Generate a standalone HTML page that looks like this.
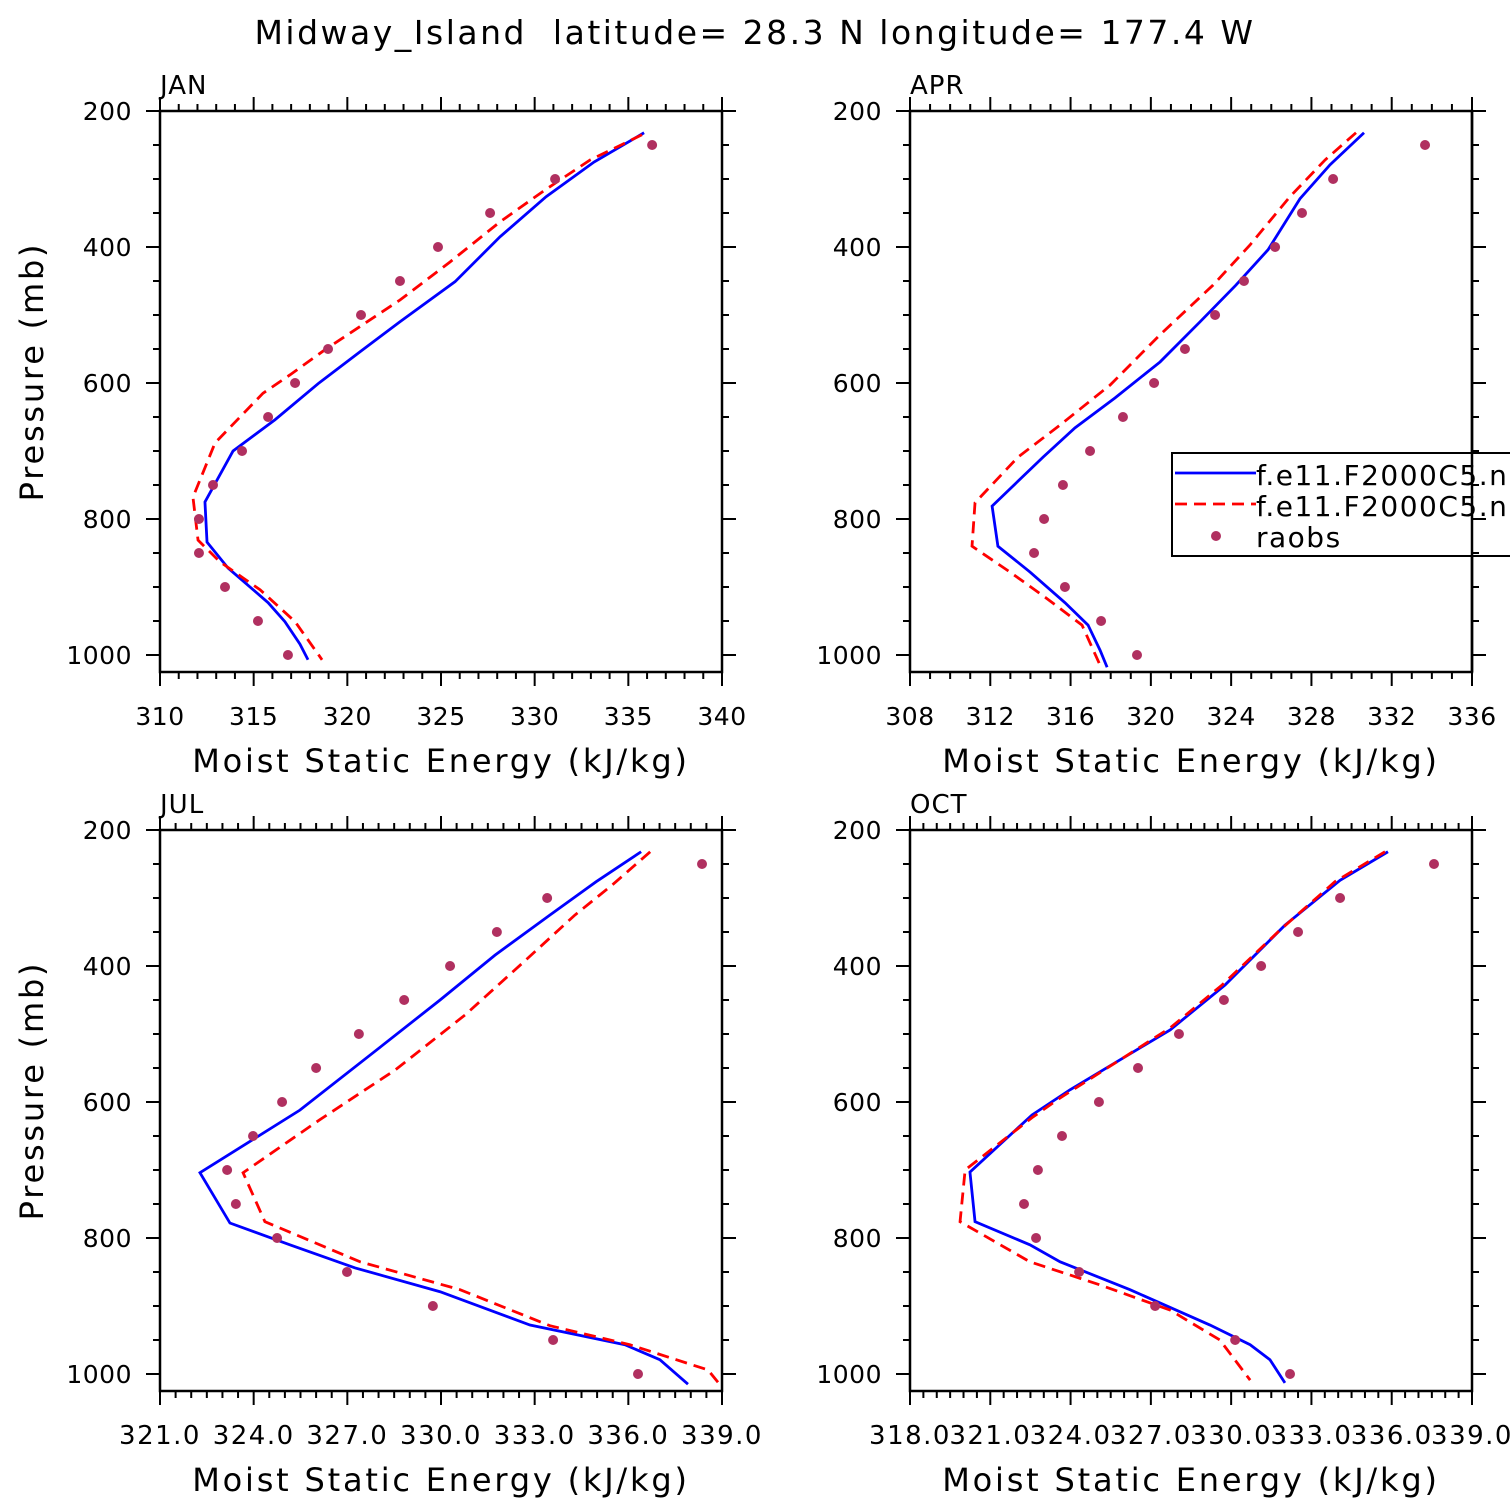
<!DOCTYPE html>
<html><head><meta charset="utf-8"><style>
html,body{margin:0;padding:0;background:#fff;overflow:hidden}
svg{display:block;font-family:"DejaVu Sans","Liberation Sans",sans-serif}
text{white-space:pre}
</style></head><body>
<svg id="c" width="1510" height="1510" viewBox="0 0 1510 1510">
<text x="755" y="44" text-anchor="middle" font-size="33" letter-spacing="2.5">Midway_Island  latitude= 28.3 N longitude= 177.4 W</text>
</svg>
<script>
// JAN
const janObsX=[336.27,331.09,327.62,324.84,322.81,320.73,318.97,317.21,315.77,314.38,312.83,312.08,312.08,313.47,315.23,316.83];
const obsP=[250,300,350,400,450,500,550,600,650,700,750,800,850,900,950,1000];
const janBlueX=[335.84,333.17,330.61,328.15,325.75,322.81,320.68,318.44,316.14,313.90,312.40,312.51,313.63,315.77,316.67,317.47,317.90];
const janBlueP=[232,275,326,385,451,510,554,601,654,700,775,834,872,923,951,984,1007];
const janRedX=[335.73,332.96,330.56,328.15,325.48,322.81,318.81,316.94,315.50,312.94,311.76,312.03,313.20,315.34,317.21,318.65];
const janRedP=[235,272,316,363,422,478,551,588,615,688,768,831,863,904,951,1007];
// APR
const aprObsX=[333.66,329.08,327.53,326.19,324.64,323.20,321.70,320.16,318.61,316.97,315.62,314.68,314.18,315.72,317.52,319.31];
const aprBlueX=[330.62,328.93,327.43,325.84,324.24,322.45,320.46,318.21,316.22,314.63,312.09,312.38,313.98,315.72,316.87,317.47,317.82];
const aprBlueP=[232,279,329,404,456,510,569,622,666,709,781,840,878,923,956,993,1018];
const aprRedX=[330.22,328.68,326.93,324.94,323.10,320.46,317.97,315.47,313.38,311.24,311.09,312.98,314.73,316.57,317.47];
const aprRedP=[232,272,326,397,456,529,603,662,709,776,840,878,915,956,1015];
// JUL
const julObsX=[338.36,333.40,331.79,330.29,328.82,327.37,326.00,324.91,323.98,323.15,323.43,324.75,326.99,329.74,333.59,336.31];
const julBlueX=[336.41,334.97,333.49,331.73,329.97,327.73,325.48,322.28,323.24,325.16,327.25,329.97,332.85,335.89,337.01,337.91];
const julBlueP=[232,276,325,384,450,531,612,704,778,810,844,879,928,957,979,1015];
const julRedX=[336.70,335.48,334.29,332.53,330.77,328.53,326.12,323.66,324.36,327.41,330.61,333.49,336.05,338.55,338.94];
const julRedP=[232,281,325,399,472,553,626,704,776,835,876,929,957,994,1016];
// OCT
const octObsX=[337.58,334.07,332.50,331.12,329.73,328.05,326.52,325.06,323.68,322.78,322.26,322.71,324.32,327.16,330.15,332.20];
const octBlueX=[335.86,334.07,332.01,329.77,327.72,325.85,323.98,322.56,320.24,320.43,322.48,323.61,326.22,329.21,330.71,331.45,332.01];
const octBlueP=[232,274,340,428,494,538,582,619,703,776,810,835,876,928,957,979,1013];
const octRedX=[335.75,333.88,331.83,329.66,327.72,325.85,323.61,322.56,320.06,319.87,322.48,325.10,327.72,329.58,330.71];
const octRedP=[232,276,347,428,491,538,594,623,700,776,835,869,906,950,1009];

const yTicks=[200,400,600,800,1000];
const janTicks=[310,315,320,325,330,335,340];
const aprTicks=[308,312,316,320,324,328,332,336];
const julTicks=[321,324,327,330,333,336,339];
const octTicks=[318,321,324,327,330,333,336,339];

const NS='http://www.w3.org/2000/svg';
const svg=document.getElementById('c');
function mk(tag,attrs,parent){const e=document.createElementNS(NS,tag);for(const k in attrs)e.setAttribute(k,attrs[k]);(parent||svg).appendChild(e);return e;}

function panel(name,L,T,xmin,xmax,ticks,minorStep,labFmt,obsX,bX,bP,rX,rP,legend){
  const W=562,H=561;
  const g=mk('g',{});
  
  
  const clip=mk('clipPath',{id:'cl'+name},g);
  mk('rect',{x:L,y:T,width:W,height:H},clip);
  const sx=v=>L+(v-xmin)/(xmax-xmin)*W;
  const sy=p=>T+(p-200)*0.68;
  const box=mk('rect',{x:L,y:T,width:W,height:H,fill:'none',stroke:'#000','stroke-width':2.5},g);
  
  
  for(let p=200;p<=1025;p+=50){
    const maj=p%200===0;const len=maj?14:7;const y=sy(p);
    mk('line',{x1:L-len,x2:L,y1:y,y2:y,stroke:'#000','stroke-width':2},g);
    mk('line',{x1:L+W,x2:L+W+len,y1:y,y2:y,stroke:'#000','stroke-width':2},g);
  }
  yTicks.forEach(p=>{const t=mk('text',{x:L-28,y:sy(p)+9,'text-anchor':'end','font-size':25,'letter-spacing':0.5},g);t.textContent=p;
    });
  for(let v=xmin;v<=xmax+1e-6;v+=minorStep){
    const maj=ticks.some(t=>Math.abs(t-v)<1e-6);const len=maj?14:7;const x=sx(v);
    mk('line',{x1:x,x2:x,y1:T-len,y2:T,stroke:'#000','stroke-width':2},g);
    mk('line',{x1:x,x2:x,y1:T+H,y2:T+H+len,stroke:'#000','stroke-width':2},g);
  }
  ticks.forEach(v=>{const s=labFmt(v);const t=mk('text',{x:sx(v),y:T+H+53,'text-anchor':'middle','font-size':s.length>3?26:25,'letter-spacing':s.length>3?1.5:0.5},g);t.textContent=s;
    });
  const xt=mk('text',{x:L+W/2,y:T+H+100,'text-anchor':'middle','font-size':32,'letter-spacing':2.8},g);
  xt.textContent='Moist Static Energy (kJ/kg)';
  
  if(L<500){const yt=mk('text',{x:0,y:0,'text-anchor':'middle','font-size':32,'letter-spacing':2.8,transform:`translate(${L-117},${T+H/2-20}) rotate(-90)`},g);
    yt.textContent='Pressure (mb)';}
  const mt=mk('text',{x:L,y:T-17,'font-size':26,'letter-spacing':1},g);mt.textContent=name.toUpperCase();
  
  const dg=mk('g',{'clip-path':`url(#cl${name})`},g);
  const bl=mk('polyline',{points:bX.map((v,i)=>sx(v)+','+sy(bP[i])).join(' '),fill:'none',stroke:'#0000ff','stroke-width':2.8},dg);
  
  const rl=mk('polyline',{points:rX.map((v,i)=>sx(v)+','+sy(rP[i])).join(' '),fill:'none',stroke:'#ff0000','stroke-width':2.8,'stroke-dasharray':'12,7'},dg);
  
  obsX.forEach((v,i)=>{const c=mk('circle',{cx:sx(v),cy:sy(obsP[i]),r:5,fill:'#b03060'},g);
    });
  if(legend){
    const lg=mk('g',{},svg);
    
    mk('rect',{x:1172,y:453,width:360,height:103,fill:'#fff',stroke:'#000','stroke-width':2},lg);
    mk('line',{x1:1175,x2:1256,y1:473,y2:473,stroke:'#0000ff','stroke-width':2.8},lg);
    mk('line',{x1:1175,x2:1256,y1:504,y2:504,stroke:'#ff0000','stroke-width':2.8,'stroke-dasharray':'12,7'},lg);
    mk('circle',{cx:1216,cy:536,r:5,fill:'#b03060'},lg);
    [['f.e11.F2000C5.n',485],['f.e11.F2000C5.n',516],['raobs',547]].forEach(([s,y],i)=>{
      const t=mk('text',{x:1256,y:y,'font-size':28,'letter-spacing':1.5},lg);t.textContent=s;
      });
    mk('line',{x1:L+W,x2:L+W,y1:T,y2:T+H,stroke:'#000','stroke-width':2.5},lg);
    for(let p=200;p<=1025;p+=50){const maj=p%200===0;const len=maj?14:7;const y=sy(p);
      mk('line',{x1:L+W,x2:L+W+len,y1:y,y2:y,stroke:'#000','stroke-width':2},lg);}
  }
}
panel('jan',160,111,310,340,janTicks,1,v=>String(v),janObsX,janBlueX,janBlueP,janRedX,janRedP,false);
panel('apr',910,111,308,336,aprTicks,1,v=>String(v),aprObsX,aprBlueX,aprBlueP,aprRedX,aprRedP,true);
panel('jul',160,830,321,339,julTicks,0.5,v=>v.toFixed(1),julObsX,julBlueX,julBlueP,julRedX,julRedP,false);
panel('oct',910,830,318,339,octTicks,0.5,v=>v.toFixed(1),octObsX,octBlueX,octBlueP,octRedX,octRedP,false);
</script>
</body></html>
